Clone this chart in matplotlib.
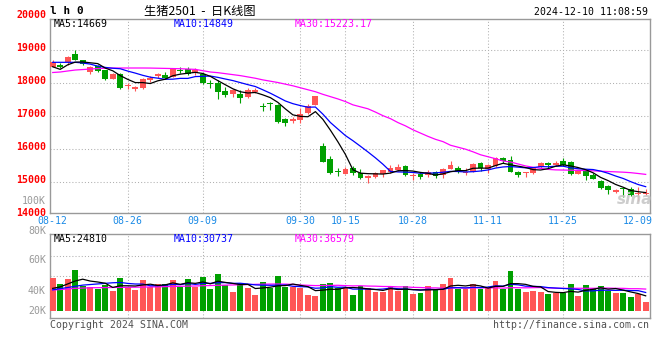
import matplotlib
matplotlib.use("Agg")
import matplotlib.pyplot as plt
from matplotlib.transforms import ScaledTranslation

W, H = 660, 360

# trading days shown on the chart (2024)
dates = ["08-12", "08-13", "08-14", "08-15", "08-16", "08-19", "08-20", "08-21", "08-22", "08-23",
         "08-26", "08-27", "08-28", "08-29", "08-30", "09-02", "09-03", "09-04", "09-05", "09-06",
         "09-09", "09-10", "09-11", "09-12", "09-13", "09-18", "09-19", "09-20", "09-23", "09-24",
         "09-25", "09-26", "09-27", "09-30", "10-08", "10-09", "10-10", "10-11", "10-14", "10-15",
         "10-16", "10-17", "10-18", "10-21", "10-22", "10-23", "10-24", "10-25", "10-28", "10-29",
         "10-30", "10-31", "11-01", "11-04", "11-05", "11-06", "11-07", "11-08", "11-11", "11-12",
         "11-13", "11-14", "11-15", "11-18", "11-19", "11-20", "11-21", "11-22", "11-25", "11-26",
         "11-27", "11-28", "11-29", "12-02", "12-03", "12-04", "12-05", "12-06", "12-09", "12-10"]

opens = [18503, 18553, 18645, 18888, 18696, 18350, 18533, 18401, 18137, 18290,
         17914, 17833, 17863, 18097, 18208, 18259, 18198, 18381, 18421, 18310,
         18280, 18005, 18016, 17772, 17681, 17660, 17589, 17741, 17295, 17376,
         17335, 16919, 16848, 16879, 17082, 17325, 16087, 15691, 15295, 15234,
         15427, 15255, 15103, 15153, 15224, 15305, 15356, 15478, 15164, 15234,
         15194, 15285, 15204, 15397, 15427, 15255, 15305, 15569, 15376, 15478,
         15731, 15661, 15295, 15255, 15255, 15437, 15569, 15508, 15640, 15590,
         15244, 15326, 15204, 15031, 14879, 14696, 14778, 14788, 14615, 14615]
highs = [18706, 18604, 18838, 19010, 18700, 18510, 18564, 18410, 18300, 18300,
         18016, 17914, 18158, 18218, 18320, 18340, 18462, 18503, 18503, 18462,
         18300, 18097, 18097, 17894, 17823, 17792, 17853, 17863, 17386, 17437,
         17366, 16950, 16980, 17234, 17366, 17609, 16168, 15793, 15407, 15458,
         15488, 15397, 15205, 15305, 15356, 15508, 15529, 15508, 15255, 15295,
         15356, 15316, 15427, 15630, 15478, 15407, 15559, 15590, 15539, 15741,
         15762, 15783, 15326, 15305, 15427, 15600, 15600, 15640, 15711, 15620,
         15356, 15356, 15255, 15052, 14889, 14778, 14818, 14839, 14849, 14767]
lows = [18490, 18452, 18543, 18700, 18543, 18280, 18350, 18097, 18117, 17823,
        17812, 17772, 17833, 18046, 18168, 18127, 18178, 18300, 18259, 18259,
        17965, 17863, 17528, 17569, 17589, 17406, 17549, 17701, 17153, 17183,
        16797, 16706, 16777, 16797, 17061, 17325, 15590, 15234, 15184, 15234,
        15205, 15082, 14971, 15123, 15153, 15275, 15336, 15184, 15052, 15092,
        15153, 15113, 15113, 15376, 15255, 15204, 15285, 15336, 15255, 15458,
        15559, 15285, 15153, 15133, 15234, 15407, 15427, 15478, 15478, 15214,
        15224, 15052, 15072, 14778, 14625, 14666, 14544, 14564, 14422, 14595]
closes = [18634, 18503, 18807, 18706, 18584, 18503, 18381, 18127, 18290, 17853,
          17924, 17894, 18127, 18147, 18269, 18168, 18421, 18371, 18279, 18411,
          17995, 17985, 17721, 17650, 17792, 17549, 17792, 17802, 17285, 17366,
          16828, 16797, 16899, 17061, 17305, 17609, 15610, 15255, 15285, 15387,
          15275, 15103, 15174, 15255, 15356, 15427, 15458, 15204, 15174, 15153,
          15295, 15184, 15387, 15498, 15325, 15295, 15539, 15407, 15498, 15721,
          15640, 15305, 15204, 15285, 15407, 15579, 15508, 15569, 15508, 15234,
          15336, 15184, 15092, 14808, 14747, 14747, 14768, 14595, 14625, 14666]

ma5 = [18500, 18420, 18560, 18640, 18647, 18621, 18596, 18460, 18377, 18231,
       18115, 18018, 18018, 17989, 18072, 18121, 18226, 18275, 18302, 18330,
       18295, 18208, 18078, 17952, 17829, 17739, 17701, 17717, 17644, 17559,
       17415, 17216, 17035, 16990, 16978, 17134, 16897, 16568, 16213, 15829,
       15362, 15261, 15245, 15239, 15233, 15263, 15334, 15340, 15324, 15283,
       15257, 15202, 15239, 15303, 15338, 15338, 15409, 15413, 15413, 15492,
       15561, 15514, 15474, 15431, 15368, 15356, 15397, 15470, 15514, 15480,
       15431, 15366, 15271, 15131, 15033, 14916, 14832, 14733, 14696, 14669]
ma10 = [18635, 18635, 18635, 18635, 18615, 18580, 18520, 18480, 18455, 18439,
        18368, 18307, 18239, 18183, 18152, 18118, 18122, 18146, 18145, 18201,
        18208, 18217, 18177, 18127, 18079, 18017, 17955, 17898, 17798, 17694,
        17577, 17458, 17376, 17317, 17268, 17274, 17056, 16802, 16602, 16404,
        16248, 16079, 15906, 15726, 15531, 15313, 15298, 15292, 15281, 15258,
        15260, 15268, 15289, 15314, 15311, 15297, 15305, 15326, 15358, 15415,
        15449, 15462, 15443, 15422, 15430, 15459, 15455, 15472, 15473, 15424,
        15394, 15381, 15370, 15323, 15257, 15173, 15099, 15002, 14914, 14849]
ma30 = [18325, 18340, 18371, 18400, 18415, 18430, 18445, 18455, 18460, 18462,
        18462, 18462, 18462, 18460, 18455, 18450, 18445, 18440, 18430, 18420,
        18380, 18340, 18320, 18290, 18260, 18230, 18190, 18150, 18100, 18060,
        18020, 17970, 17920, 17860, 17800, 17740, 17660, 17590, 17520, 17440,
        17340, 17280, 17220, 17120, 17010, 16920, 16800, 16700, 16580, 16480,
        16380, 16290, 16220, 16110, 16050, 15990, 15910, 15820, 15760, 15700,
        15630, 15600, 15540, 15480, 15440, 15405, 15375, 15360, 15355, 15350,
        15345, 15340, 15330, 15320, 15310, 15300, 15290, 15275, 15250, 15223.17]

# volume in thousands of lots
volumes = [56.7, 45.9, 55.0, 69.7, 43.1, 40.8, 38.0, 44.2, 34.6, 56.7,
           40.8, 36.3, 53.3, 40.8, 45.9, 45.9, 53.3, 40.8, 54.4, 40.8,
           57.8, 37.4, 62.9, 44.2, 32.3, 47.6, 39.7, 27.2, 49.3, 38.5,
           59.5, 41.4, 40.2, 38.5, 27.2, 25.5, 45.9, 47.6, 38.5, 40.2,
           27.2, 42.5, 39.7, 32.9, 32.9, 42.5, 34.6, 42.5, 28.9, 30.6,
           42.5, 36.8, 45.9, 56.7, 36.8, 36.8, 45.9, 36.8, 38.5, 51.6,
           36.8, 68.6, 36.8, 32.9, 34.6, 32.3, 28.9, 30.0, 30.0, 45.9,
           25.5, 44.2, 39.1, 42.5, 34.6, 30.6, 30.6, 23.8, 28.9, 15.3]
vol_ma5 = [38.5, 41.0, 46.0, 51.0, 54.1, 50.9, 49.3, 47.2, 40.1, 42.9,
           42.9, 42.5, 44.3, 45.6, 43.4, 44.4, 47.8, 45.3, 48.1, 47.0,
           49.4, 46.2, 50.7, 48.6, 46.9, 44.9, 45.3, 38.2, 39.2, 40.5,
           42.8, 43.2, 45.8, 43.6, 41.4, 34.6, 35.5, 36.9, 36.9, 39.5,
           39.9, 39.2, 37.6, 36.5, 35.0, 38.1, 36.5, 37.1, 36.3, 35.8,
           35.8, 36.3, 36.9, 42.5, 43.7, 42.6, 44.4, 42.6, 39.0, 41.9,
           41.9, 46.5, 46.5, 45.3, 41.9, 41.0, 33.1, 31.7, 31.2, 33.4,
           32.1, 35.1, 36.9, 39.4, 37.2, 38.2, 35.5, 32.4, 29.7, 25.8]
vol_ma10 = [36.0, 38.0, 40.0, 42.0, 44.0, 45.0, 46.0, 47.0, 48.0, 48.5,
            46.9, 45.9, 45.8, 42.9, 43.1, 43.7, 45.2, 44.8, 46.8, 45.2,
            46.9, 47.0, 48.0, 48.3, 47.0, 47.2, 45.8, 44.4, 43.9, 43.7,
            43.9, 44.3, 42.0, 41.4, 40.9, 38.7, 39.3, 41.4, 40.3, 40.5,
            37.2, 37.3, 37.3, 36.7, 37.3, 39.0, 37.9, 37.4, 36.4, 35.4,
            37.0, 36.4, 37.0, 39.4, 39.8, 39.2, 40.3, 39.8, 40.7, 42.8,
            42.3, 45.4, 44.5, 42.2, 41.9, 41.5, 39.8, 39.1, 38.3, 37.7,
            36.6, 34.1, 34.3, 35.3, 35.3, 35.1, 35.3, 34.7, 34.6, 31.5]
vol_ma30 = [35.7, 36.5, 37.5, 38.5, 39.0, 39.5, 39.7, 39.8, 40.0, 40.2,
            40.3, 40.5, 40.7, 40.9, 41.1, 41.4, 41.7, 42.0, 42.3, 42.5,
            43.0, 43.3, 43.7, 44.0, 44.3, 44.6, 45.0, 45.3, 45.6, 45.8,
            45.9, 45.7, 45.2, 44.2, 43.7, 43.2, 43.4, 43.5, 43.7, 43.1,
            42.7, 42.9, 42.4, 42.2, 41.7, 41.6, 41.0, 41.0, 40.2, 39.9,
            39.3, 39.3, 38.8, 39.2, 39.3, 39.0, 39.2, 39.5, 39.1, 39.6,
            38.8, 39.7, 39.6, 39.4, 39.7, 39.9, 39.3, 38.7, 38.5, 38.6,
            38.6, 38.6, 38.6, 38.9, 39.0, 38.6, 38.5, 37.9, 37.9, 37.3]

tick_dates = ["08-12", "08-26", "09-09", "09-30", "10-15", "10-28", "11-11", "11-25", "12-09"]
price_ticks = [14000, 15000, 16000, 17000, 18000, 19000, 20000]
vol_labels = ["100K", "80K", "60K", "40K", "20K"]

RED = "#ff5555"
GREEN = "#00a000"
GRID = "#b0b0b0"
FRAME = "#999999"
BLUE_TXT = "#1a8ae6"
MONO = "DejaVu Sans Mono"
DOT = (0, (1, 2))

for arr in (opens, highs, lows, closes, ma5, ma10, ma30, volumes, vol_ma5, vol_ma10, vol_ma30):
    assert len(arr) == len(dates), len(arr)


def box(x0, y0, x1, y1):
    # pixel box, origin top-left -> figure fraction
    return [x0 / W, 1 - y1 / H, (x1 - x0) / W, (y1 - y0) / H]


def ftext(x, y, s, **kw):
    fig.text(x / W, 1 - y / H, s, va="center", **kw)


fig = plt.figure(figsize=(W / 100, H / 100), dpi=100)
ax = fig.add_axes(box(50, 19, 649.5, 213.3))
axv = fig.add_axes(box(50, 234.3, 649.5, 318))

n = len(dates)
x = list(range(n))
colors = [RED if c >= o else GREEN for o, c in zip(opens, closes)]
tick_idx = [dates.index(d) for d in tick_dates]

# ---- price panel ----
ax.vlines(x, lows, highs, colors=colors, linewidth=0.8, zorder=3)
bottoms = [min(o, c) for o, c in zip(opens, closes)]
bodies = [max(abs(c - o), 30) for o, c in zip(opens, closes)]
ax.bar(x, bodies, bottom=bottoms, width=0.78, color=colors, linewidth=0, zorder=4)
ax.plot(x, ma30, color="#ff00ff", lw=0.9, zorder=5)
ax.plot(x, ma10, color="#0000ff", lw=0.9, zorder=5)
ax.plot(x, ma5, color="#000000", lw=0.9, zorder=6)

ax.set_xlim(-0.36, n - 0.49)
ax.set_ylim(14038, 19954)
ax.set_yticks(price_ticks[1:-1])
ax.yaxis.grid(True, color=GRID, ls=DOT, lw=0.75)
ax.set_xticks(tick_idx, labels=tick_dates, fontfamily=MONO, fontsize=7.1, color=BLUE_TXT)
ax.tick_params(axis="x", length=0, pad=2)
ax.tick_params(axis="y", length=0, labelleft=False)
for t in tick_idx[1:-1]:
    ax.axvline(t, color=GRID, ls=DOT, lw=0.75, zorder=1)

lab_tr = ax.get_yaxis_transform() + ScaledTranslation(-3.5 / 100, 2 / 100, fig.dpi_scale_trans)
for p in price_ticks:
    ax.text(0, p, str(p), transform=lab_tr, ha="right", va="center", color="#ff0000",
            fontsize=7.1, fontfamily=MONO, fontweight="bold", clip_on=False)

# ---- volume panel ----
axv.bar(x, [v * 1000 for v in volumes], width=0.78, color=colors, linewidth=0, zorder=3)
axv.plot(x, [v * 1000 for v in vol_ma30], color="#ff00ff", lw=0.9, zorder=5)
axv.plot(x, [v * 1000 for v in vol_ma10], color="#0000ff", lw=0.9, zorder=5)
axv.plot(x, [v * 1000 for v in vol_ma5], color="#000000", lw=0.9, zorder=6)
axv.set_xlim(-0.36, n - 0.49)
axv.set_ylim(-11900, 130400)
axv.set_yticks([60000, 94000])
axv.yaxis.grid(True, color=GRID, ls=DOT, lw=0.75)
axv.set_xticks([])
axv.tick_params(axis="y", length=0, labelleft=False)
for t in tick_idx[1:-1]:
    axv.axvline(t, color=GRID, ls=DOT, lw=0.75, zorder=1)

for a in (ax, axv):
    a.set_axisbelow(True)
    for sp in a.spines.values():
        sp.set_color(FRAME)
        sp.set_linewidth(1.0)

# volume axis labels (as placed by the original chart)
for lbl, y in zip(vol_labels, [200.7, 230.7, 260, 290.7, 311]):
    ftext(46, y, lbl, ha="right", color="#999999", fontsize=7.1, fontfamily=MONO)

# ---- header / legend texts ----
ftext(50, 11, "l h 0", ha="left", fontsize=8, fontfamily=MONO, fontweight="bold", color="black")
ftext(200, 11.5, "生猪2501  -  日K线图", ha="center", fontsize=8.8,
      family=["Noto Sans CJK SC", "DejaVu Sans"], color="black")
ftext(648.5, 12, "2024-12-10 11:08:59", ha="right", fontsize=7.1, fontfamily=MONO, color="black")

for s, xx, col in [("MA5:14669", 54, "black"), ("MA10:14849", 174, "#0000ff"), ("MA30:15223.17", 295, "#ff00ff")]:
    ftext(xx, 24, s, ha="left", fontsize=7.1, fontfamily=MONO, color=col)
for s, xx, col in [("MA5:24810", 54, "black"), ("MA10:30737", 174, "#0000ff"), ("MA30:36579", 295, "#ff00ff")]:
    ftext(xx, 238.5, s, ha="left", fontsize=7.1, fontfamily=MONO, color=col)

ftext(50, 324.5, "Copyright 2024 SINA.COM", ha="left", fontsize=7.1, fontfamily=MONO, color="#505050")
ftext(648.5, 324.5, "http://finance.sina.com.cn", ha="right", fontsize=7.1, fontfamily=MONO, color="#505050")

# faint sina watermark
ftext(635, 199, "sina", ha="center", fontsize=11, fontweight="bold", style="italic",
      color="#c8c8c8", alpha=0.9)

fig.savefig("out.png", dpi=100)
